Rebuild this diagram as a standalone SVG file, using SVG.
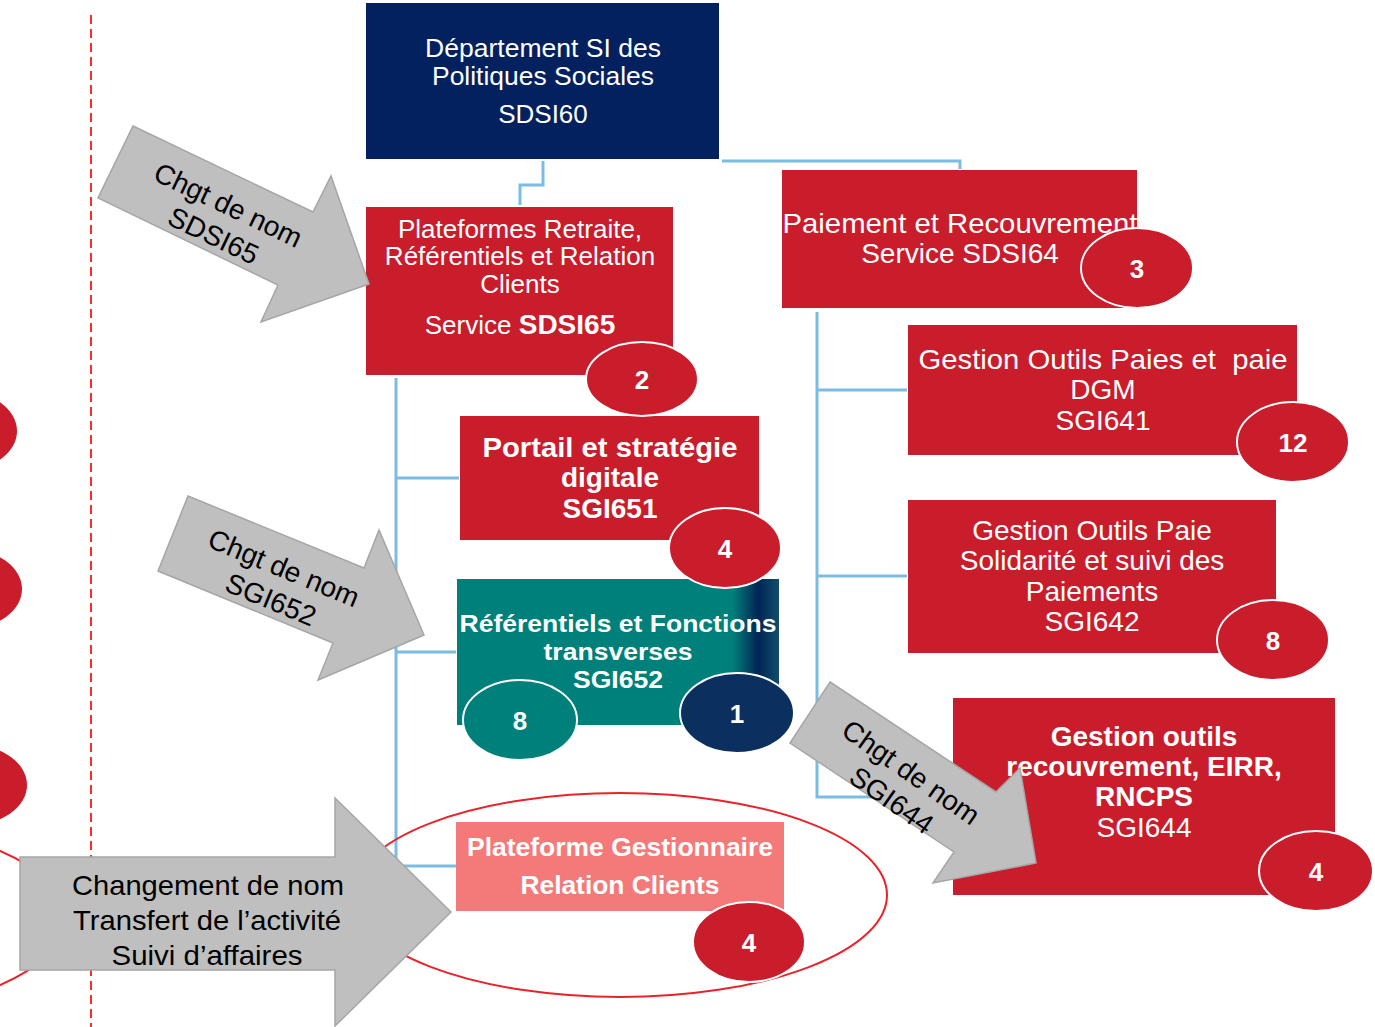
<svg xmlns="http://www.w3.org/2000/svg" width="1375" height="1027" viewBox="0 0 1375 1027">
<defs>
<style>
.conn{fill:none;stroke:#7CBBE2;stroke-width:3}
.red{fill:#C91D2C}
.arrow{fill:#BFBFBF;stroke:#A6A6A6;stroke-width:1.5;stroke-linejoin:miter}
.badge{stroke:#FFFFFF;stroke-width:2}
.t{font-family:"Liberation Sans",Arial,sans-serif;fill:#FFFFFF;text-anchor:middle}
.b{font-weight:bold}
.num{font-family:"Liberation Sans",Arial,sans-serif;font-weight:bold;font-size:26px;fill:#FFFFFF;text-anchor:middle}
.at{font-family:"Liberation Sans",Arial,sans-serif;fill:#000000;text-anchor:middle;font-size:28px}
</style>
<linearGradient id="tealg" x1="457" y1="0" x2="779" y2="0" gradientUnits="userSpaceOnUse">
<stop offset="0" stop-color="#00807A"/>
<stop offset="0.855" stop-color="#00807A"/>
<stop offset="0.935" stop-color="#002556"/>
<stop offset="1" stop-color="#114E6C"/>
</linearGradient>
</defs>
<rect width="1375" height="1027" fill="#FFFFFF"/>

<g id="left-margin">
<line x1="91" y1="15" x2="91" y2="1027" stroke="#FF2A2A" stroke-width="2" stroke-dasharray="9,5"/>
<ellipse cx="-39" cy="431" rx="56" ry="40" class="red"/>
<ellipse cx="-34" cy="589" rx="56" ry="40" class="red"/>
<ellipse cx="-29" cy="785" rx="56" ry="40" class="red"/>
<ellipse cx="-201" cy="918" rx="267" ry="102" fill="none" stroke="#E8232A" stroke-width="2"/>
</g>

<g id="connectors">
<path class="conn" d="M543,161 V185 H520 V205"/>
<path class="conn" d="M722,161 H960 V169"/>
<path class="conn" d="M396,378 V866 M396,478 H459 M396,652 H456 M396,866 H456"/>
<path class="conn" d="M817,312 V797 H953 M817,390 H907 M817,576 H907"/>
</g>

<g id="n-sdsi60">
<rect x="366" y="3" width="353" height="156" fill="#03215F"/>
<text class="t" font-size="26" x="543" y="57" textLength="236" lengthAdjust="spacingAndGlyphs">Département SI des</text>
<text class="t" font-size="26" x="543" y="85" textLength="222" lengthAdjust="spacingAndGlyphs">Politiques Sociales</text>
<text class="t" font-size="26" x="543" y="123">SDSI60</text>
</g>

<g id="n-sdsi65">
<rect x="366" y="207" width="307" height="168" class="red"/>
<text class="t" font-size="26" x="520" y="238">Plateformes Retraite,</text>
<text class="t" font-size="26" x="520" y="265">Référentiels et Relation</text>
<text class="t" font-size="26" x="520" y="293">Clients</text>
<text class="t" font-size="26" x="520" y="334">Service <tspan class="b" font-size="28">SDSI65</tspan></text>
</g>

<g id="n-sdsi64">
<rect x="782" y="170" width="355" height="138" class="red"/>
<text class="t" font-size="28" x="960" y="233" textLength="355" lengthAdjust="spacingAndGlyphs">Paiement et Recouvrement</text>
<text class="t" font-size="28" x="960" y="263">Service SDSI64</text>
</g>

<g id="n-sgi641">
<rect x="908" y="325" width="389" height="130" class="red"/>
<text class="t" font-size="28" x="1103" y="369" textLength="369" lengthAdjust="spacingAndGlyphs" xml:space="preserve">Gestion Outils Paies et  paie</text>
<text class="t" font-size="28" x="1103" y="399">DGM</text>
<text class="t" font-size="28" x="1103" y="430">SGI641</text>
</g>

<g id="n-sgi642">
<rect x="908" y="500" width="368" height="153" class="red"/>
<text class="t" font-size="28" x="1092" y="540">Gestion Outils Paie</text>
<text class="t" font-size="28" x="1092" y="570">Solidarité et suivi des</text>
<text class="t" font-size="28" x="1092" y="601">Paiements</text>
<text class="t" font-size="28" x="1092" y="631">SGI642</text>
</g>

<g id="n-sgi644">
<rect x="953" y="698" width="382" height="197" class="red"/>
<text class="t b" font-size="28" x="1144" y="746">Gestion outils</text>
<text class="t b" font-size="28" x="1144" y="776">recouvrement, EIRR,</text>
<text class="t b" font-size="28" x="1144" y="806">RNCPS</text>
<text class="t" font-size="28" x="1144" y="837">SGI644</text>
</g>

<g id="n-sgi651">
<rect x="460" y="416" width="299" height="124" class="red"/>
<text class="t b" font-size="28" x="610" y="457" textLength="255" lengthAdjust="spacingAndGlyphs">Portail et stratégie</text>
<text class="t b" font-size="28" x="610" y="487">digitale</text>
<text class="t b" font-size="28" x="610" y="518">SGI651</text>
</g>

<g id="n-sgi652">
<rect x="457" y="579" width="322" height="146" fill="url(#tealg)"/>
<text class="t b" font-size="24" x="618" y="632" textLength="317" lengthAdjust="spacingAndGlyphs">Référentiels et Fonctions</text>
<text class="t b" font-size="24" x="618" y="660" textLength="149" lengthAdjust="spacingAndGlyphs">transverses</text>
<text class="t b" font-size="24" x="618" y="688" textLength="90" lengthAdjust="spacingAndGlyphs">SGI652</text>
</g>

<g id="n-prc">
<ellipse cx="620" cy="895" rx="267" ry="102" fill="none" stroke="#E8232A" stroke-width="2"/>
<rect x="456" y="822" width="328" height="89" fill="#F47A7A"/>
<text class="t b" font-size="25" x="620" y="856" textLength="306" lengthAdjust="spacingAndGlyphs">Plateforme Gestionnaire</text>
<text class="t b" font-size="25" x="620" y="894" textLength="199" lengthAdjust="spacingAndGlyphs">Relation Clients</text>
</g>

<g id="badges">
<g id="b-2"><ellipse cx="642" cy="379" rx="56" ry="37" class="red badge"/><text class="num" x="642" y="389">2</text></g>
<g id="b-3"><ellipse cx="1137" cy="268" rx="56" ry="40" class="red badge"/><text class="num" x="1137" y="278">3</text></g>
<g id="b-12"><ellipse cx="1293" cy="442" rx="56" ry="40" class="red badge"/><text class="num" x="1293" y="452">12</text></g>
<g id="b-8r"><ellipse cx="1273" cy="640" rx="56" ry="40" class="red badge"/><text class="num" x="1273" y="650">8</text></g>
<g id="b-4a"><ellipse cx="1316" cy="871" rx="57" ry="40" class="red badge"/><text class="num" x="1316" y="881">4</text></g>
<g id="b-4b"><ellipse cx="725" cy="548" rx="56" ry="40" class="red badge"/><text class="num" x="725" y="558">4</text></g>
<g id="b-8t"><ellipse cx="520" cy="720" rx="57" ry="40" fill="#00807A" class="badge"/><text class="num" x="520" y="730">8</text></g>
<g id="b-1"><ellipse cx="737" cy="713" rx="57" ry="40" fill="#0B2F5F" class="badge"/><text class="num" x="737" y="723">1</text></g>
<g id="b-4c"><ellipse cx="749" cy="942" rx="56" ry="40" class="red badge"/><text class="num" x="749" y="952">4</text></g>
</g>

<g id="arrow-sdsi65">
<polygon class="arrow" points="133,126 313,212 331,176 369,284 261,322 278,285 98,198"/>
<g transform="translate(221,220) rotate(25.5)">
<text class="at" x="0" y="-7">Chgt de nom</text>
<text class="at" x="0" y="27">SDSI65</text>
</g>
</g>

<g id="arrow-sgi652">
<polygon class="arrow" points="188,496 364,568 379,530 424,635 318,680 333,643 158,571"/>
<g transform="translate(277.5,583.5) rotate(22.5)">
<text class="at" x="0" y="-7">Chgt de nom</text>
<text class="at" x="0" y="27">SGI652</text>
</g>
</g>

<g id="arrow-sgi644">
<polygon class="arrow" points="830,682 996,792 1020,768 1036,863 933,883 954,852 790,743"/>
<g transform="translate(901.5,786) rotate(35)">
<text class="at" x="0" y="-7">Chgt de nom</text>
<text class="at" x="0" y="27">SGI644</text>
</g>
</g>

<g id="arrow-transfert">
<polygon class="arrow" points="20,857 335,857 335,798 451,912 335,1026 335,970 20,970"/>
<text class="at" x="208" y="895" textLength="272" lengthAdjust="spacingAndGlyphs">Changement de nom</text>
<text class="at" x="207" y="930" textLength="268" lengthAdjust="spacingAndGlyphs">Transfert de l’activité</text>
<text class="at" x="207" y="965" textLength="191" lengthAdjust="spacingAndGlyphs">Suivi d’affaires</text>
</g>
</svg>
